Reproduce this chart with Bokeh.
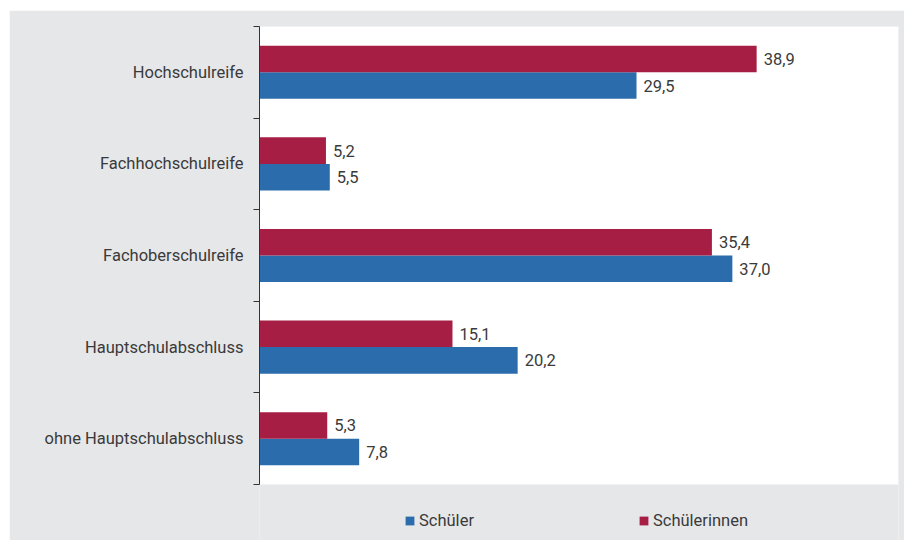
from bokeh.plotting import figure
from bokeh.models import (FixedTicker, Range1d, Legend, LegendItem, ColumnDataSource, LabelSet,
                          BoxAnnotation)
from bokeh.core.properties import value
from bokeh.embed import file_html
from bokeh.resources import INLINE

categories = ["Hochschulreife", "Fachhochschulreife", "Fachoberschulreife",
              "Hauptschulabschluss", "ohne Hauptschulabschluss"]
schueler = [29.5, 5.5, 37.0, 20.2, 7.8]
schuelerinnen = [38.9, 5.2, 35.4, 15.1, 5.3]
series_names = ["Schüler", "Schülerinnen"]
x_max = 50

GRAY = "#e6e7e9"
BLUE = "#2b6cad"
RED = "#a61e44"
TXT = "#3a3a3a"
FONT = "Roboto"
FS = "16.5px"


def fmt(v):
    return f"{v:.1f}".replace(".", ",")


n = len(categories)
centers = [i + 0.5 for i in range(n)]
bar_h = 0.29

# layout (pixels)
W, H = 895, 530
top_b, left_b, right_b = 16, 250, 6
plot_h = 458                      # height of the white plotting area
frame_h = H - top_b
y_end = n * frame_h / plot_h      # frame extends below the white area into the legend zone

src_m = ColumnDataSource(dict(y=[c + bar_h / 2 for c in centers], x=schueler,
                              lab=[fmt(v) for v in schueler]))
src_f = ColumnDataSource(dict(y=[c - bar_h / 2 for c in centers], x=schuelerinnen,
                              lab=[fmt(v) for v in schuelerinnen]))

p = figure(width=W, height=H, output_backend="svg", toolbar_location=None,
           margin=(10, 0, 0, 9),
           x_range=Range1d(0, x_max), y_range=Range1d(y_end, 0),
           min_border_left=left_b, min_border_right=right_b, min_border_top=top_b,
           min_border_bottom=0,
           border_fill_color=GRAY, background_fill_color=GRAY, outline_line_color=None)

p.add_layout(BoxAnnotation(left=0, right=x_max, top=0, bottom=n, fill_color="white",
                           fill_alpha=1, line_color=None, level="underlay"))

rm = p.hbar(y="y", right="x", left=0, height=bar_h, source=src_m, fill_color=BLUE, line_color=None)
rf = p.hbar(y="y", right="x", left=0, height=bar_h, source=src_f, fill_color=RED, line_color=None)

for src in (src_m, src_f):
    p.add_layout(LabelSet(x="x", y="y", text="lab", source=src, x_offset=7,
                          text_baseline="middle", text_font=value(FONT), text_font_size=value(FS),
                          text_color=TXT))

p.xaxis.visible = False
p.xgrid.visible = False
p.ygrid.visible = False

ax = p.yaxis[0]
ax.bounds = (0, n)
ax.ticker = FixedTicker(ticks=centers, minor_ticks=list(range(n + 1)))
ax.major_label_overrides = {c: cat for c, cat in zip(centers, categories)}
ax.major_tick_line_color = None
ax.major_tick_out = 0
ax.major_tick_in = 0
ax.minor_tick_out = 6
ax.minor_tick_in = 0
ax.minor_tick_line_color = "#333333"
ax.axis_line_color = "#333333"
ax.major_label_standoff = 10
ax.major_label_text_font = FONT
ax.major_label_text_font_size = FS
ax.major_label_text_color = TXT

lg = Legend(items=[LegendItem(label=series_names[0], renderers=[rm]),
                   LegendItem(label=series_names[1], renderers=[rf])],
            location=(145, 10), orientation="horizontal", padding=0, margin=0,
            spacing=164, border_line_color=None, background_fill_alpha=0,
            glyph_width=11, glyph_height=11, label_standoff=4,
            label_text_font=FONT, label_text_font_size=FS, label_text_color=TXT)
p.add_layout(lg, "center")

open("out.html", "w").write(file_html(p, INLINE))
